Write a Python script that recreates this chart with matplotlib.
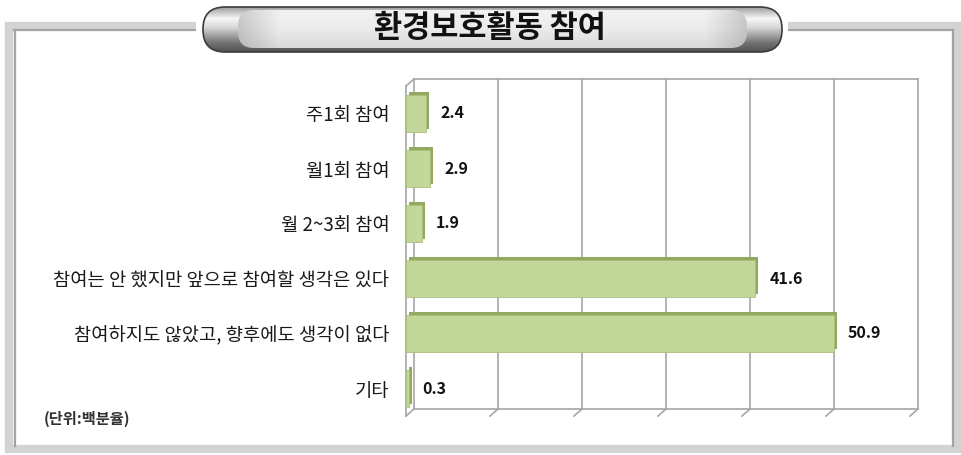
import matplotlib
matplotlib.use('Agg')
import matplotlib.pyplot as plt
import numpy as np
from matplotlib.patches import FancyBboxPatch, Rectangle
from matplotlib.lines import Line2D
from matplotlib.transforms import offset_copy, IdentityTransform

plt.rcParams['font.family'] = ['Noto Sans CJK KR', 'DejaVu Sans']

# data
title = '환경보호활동 참여'
categories = ['주1회 참여', '월1회 참여', '월 2~3회 참여',
              '참여는 안 했지만 앞으로 참여할 생각은 있다',
              '참여하지도 않았고, 향후에도 생각이 없다', '기타']
values = [2.4, 2.9, 1.9, 41.6, 50.9, 0.3]
unit_note = '(단위:백분율)'
x_max = 60
grid_step = 10

W, H = 961, 455
fig = plt.figure(figsize=(W / 100, H / 100), dpi=100)
fig.patch.set_facecolor('white')

# background axes in pixel coordinates for the frame and the title pill
bg = fig.add_axes([0, 0, 1, 1], zorder=0)
bg.set_xlim(0, W)
bg.set_ylim(H, 0)
bg.axis('off')

# outer frame: light grey band with a darker inner line
bg.add_patch(Rectangle((9, 25.5), 948, 423, fill=False, ec='#d3d3d3', lw=6))
bg.plot([14, 953], [29.5, 29.5], color='#a3a3a3', lw=1.6)
bg.plot([14.5, 14.5], [29.5, 446], color='#a3a3a3', lw=1.6)
bg.plot([953, 953], [29.5, 446], color='#a3a3a3', lw=1.6)

# title pill with metallic shading
pill = FancyBboxPatch((203, 7), 579, 45, boxstyle='round,pad=0,rounding_size=22',
                      fc='none', ec='#3c3c3c', lw=1.2, zorder=3)
bg.add_patch(Rectangle((196, 15), 592, 30, fc='white', ec='none', zorder=2))
bg.add_patch(pill)
yy = np.linspace(0, 1, 60)[:, None]
prof = np.interp(yy, [0, 0.25, 0.45, 0.8, 1.0], [0.62, 0.97, 0.85, 0.45, 0.32])
grad = np.repeat(prof, 200, axis=1)
img = bg.imshow(np.dstack([grad] * 3), extent=[203, 782, 52, 7], aspect='auto',
                zorder=2.5, interpolation='bilinear')
img.set_clip_path(pill)

inner = FancyBboxPatch((238, 10), 509, 38, boxstyle='round,pad=0,rounding_size=16',
                       fc='none', ec='none', zorder=2.8)
bg.add_patch(inner)
xx = np.linspace(0, 1, 200)[None, :]
hprof = np.interp(xx, [0, 0.08, 0.92, 1.0], [0.80, 0.95, 0.95, 0.80])
vprof = np.interp(yy, [0, 0.5, 1.0], [1.0, 0.97, 0.90])
igrad = np.clip(hprof * vprof, 0, 1)
img2 = bg.imshow(np.dstack([igrad] * 3), extent=[238, 747, 48, 10], aspect='auto',
                 zorder=2.8, interpolation='bilinear')
img2.set_clip_path(inner)
bg.text(490, 28, title, ha='center', va='center', fontsize=22,
        fontweight='bold', color='#111111', zorder=4)

bg.text(44, 419, unit_note, ha='left', va='center', fontsize=11,
        fontweight='bold', color='#333333')

# main axes = front plane of the 3D chart
left, right, top, bottom = 406, 910, 86, 416
ax = fig.add_axes([left / W, 1 - bottom / H, (right - left) / W, (bottom - top) / H],
                  zorder=1)
ax.patch.set_alpha(0)
ax.set_xlim(0, x_max)
ax.set_ylim(len(categories) - 0.5, -0.5)
for s in ax.spines.values():
    s.set_visible(False)
ax.set_xticks([])
ax.set_yticks(range(len(categories)))
ax.set_yticklabels(categories, fontsize=13.5, color='#1a1a1a')
ax.tick_params(axis='y', length=0, pad=12)

dx, dy = 8, 7
back = offset_copy(ax.transData, fig=fig, x=dx, y=dy, units='dots')
grid_c = '#a6a6a6'
y_lo, y_hi = len(categories) - 0.5, -0.5
line_kw = dict(color=grid_c, lw=1.2, zorder=0, clip_on=False)
for v in np.arange(grid_step, x_max + 1, grid_step):
    ax.plot([v, v], [y_lo, y_hi], transform=back, **line_kw)
ax.plot([0, 0], [y_lo, y_hi], transform=back, **line_kw)
ax.plot([0, x_max], [y_hi, y_hi], transform=back, **line_kw)
ax.plot([0, x_max], [y_lo, y_lo], transform=back, **line_kw)
ax.plot([0, 0], [y_lo, y_hi], **line_kw)

# slanted depth lines: top-left corner and floor ticks
fig.canvas.draw()
for v, yv in [(0, y_hi)] + [(v, y_lo) for v in np.arange(0, x_max + 1, grid_step)]:
    px, py = ax.transData.transform((v, yv))
    fig.add_artist(Line2D([px, px + dx], [py, py + dy], color=grid_c, lw=1.2,
                          transform=IdentityTransform()))

# bars with a small depth face
y = np.arange(len(categories))
depth = offset_copy(ax.transData, fig=fig, x=3, y=3, units='dots')
ax.barh(y, values, height=0.68, color='#93a960', transform=depth, zorder=2)
ax.barh(y, values, height=0.68, color='#c4d79b', ec='#aac07a', lw=0.6, zorder=3)
for yi, v in zip(y, values):
    ax.annotate(f'{v}', (v, yi), xytext=(10, 0), textcoords='offset points',
                ha='left', va='center', fontsize=11.5, fontweight='bold',
                color='#111111', zorder=4)

fig.savefig('out.png', dpi=100)
